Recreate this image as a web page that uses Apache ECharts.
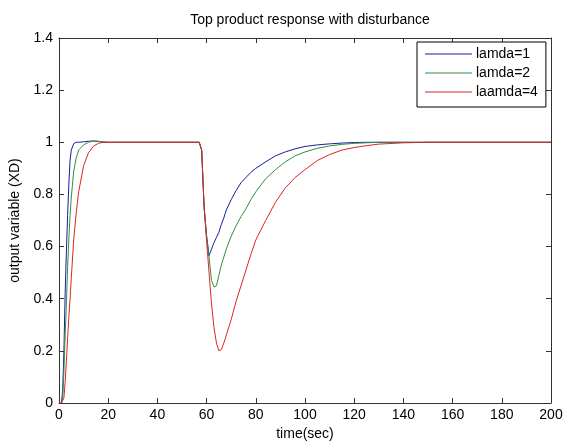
<!DOCTYPE html>
<html>
<head>
<meta charset="utf-8">
<script src="https://cdn.jsdelivr.net/npm/echarts@6/dist/echarts.min.js"></script>
<style>html,body{margin:0;padding:0;background:#fff}#c{width:566px;height:446px}</style>
</head>
<body>
<div id="c"></div>
<script>
var titleText = 'Top product response with disturbance';
var xName = 'time(sec)';
var yName = 'output variable (XD)';
var seriesNames = ['lamda=1', 'lamda=2', 'laamda=4'];
var xTicks = [0, 20, 40, 60, 80, 100, 120, 140, 160, 180, 200];
var yTicks = [0, 0.2, 0.4, 0.6, 0.8, 1, 1.2, 1.4];

var time = [0, 1, 1.5, 2, 2.5, 3, 3.5, 4, 4.5, 5, 6, 7, 8, 10, 12, 14, 16, 18, 20, 30, 40, 50,
  57, 58, 59, 60, 61, 62, 63, 64, 65, 66, 67, 68, 70, 72, 74, 76, 78, 80, 84, 88, 92, 96,
  100, 105, 110, 115, 120, 125, 130, 140, 150, 160, 180, 200];

var lamda1 = [0, 0, 0.05, 0.2, 0.42, 0.58, 0.72, 0.84, 0.93, 0.97, 0.995, 1.0, 1.0, 1.002, 1.004, 1.005, 1.003, 1.001, 1.0, 1.0, 1.0, 1.0,
  1.0, 0.97, 0.75, 0.64, 0.565, 0.59, 0.615, 0.635, 0.655, 0.685, 0.71, 0.74, 0.78, 0.815, 0.845, 0.865, 0.885, 0.9, 0.925, 0.948, 0.963, 0.975,
  0.984, 0.99, 0.994, 0.997, 0.999, 1.0, 1.0, 1.0, 1.0, 1.0, 1.0, 1.0];

var lamda2 = [0, 0, 0.02, 0.12, 0.26, 0.38, 0.52, 0.63, 0.72, 0.79, 0.89, 0.94, 0.97, 0.99, 1.0, 1.005, 1.004, 1.001, 1.0, 1.0, 1.0, 1.0,
  1.0, 0.97, 0.75, 0.64, 0.56, 0.47, 0.445, 0.45, 0.49, 0.53, 0.56, 0.59, 0.64, 0.68, 0.715, 0.745, 0.78, 0.81, 0.86, 0.895, 0.925, 0.948,
  0.963, 0.977, 0.986, 0.992, 0.996, 0.998, 1.0, 1.0, 1.0, 1.0, 1.0, 1.0];

var lamda4 = [0, 0, 0, 0.02, 0.08, 0.16, 0.25, 0.33, 0.40, 0.48, 0.63, 0.73, 0.81, 0.91, 0.96, 0.985, 0.996, 1.0, 1.0, 1.0, 1.0, 1.0,
  1.0, 0.97, 0.75, 0.62, 0.5, 0.38, 0.29, 0.23, 0.2, 0.205, 0.23, 0.26, 0.32, 0.39, 0.45, 0.51, 0.57, 0.625, 0.70, 0.77, 0.825, 0.865,
  0.895, 0.93, 0.953, 0.97, 0.98, 0.987, 0.993, 0.998, 1.0, 1.0, 1.0, 1.0];

var colors = ['#1c1ca0', '#2e9040', '#e02424'];
var values = [lamda1, lamda2, lamda4];

function pairs(ys) { return time.map(function (t, i) { return [t, ys[i]]; }); }

var font = 'Liberation Sans, Arial, sans-serif';
var axisColor = '#333';
var fs = 14;

var chart = echarts.init(document.getElementById('c'), null, {renderer: 'canvas'});
var xMin = xTicks[0], xMax = xTicks[xTicks.length - 1];
var yMin = yTicks[0], yMax = yTicks[yTicks.length - 1];

function xAx(pos, labels) {
  return {
    type: 'value', position: pos, min: xMin, max: xMax, interval: 20,
    name: labels ? xName : '', nameLocation: 'middle', nameGap: 24,
    nameTextStyle: {color: '#000', fontSize: fs, fontFamily: font},
    axisLine: {show: true, onZero: false, lineStyle: {color: axisColor, width: 1}},
    axisTick: {show: true, inside: true, length: 5, lineStyle: {color: axisColor}},
    axisLabel: {show: labels, color: '#000', fontSize: fs, fontFamily: font, margin: 5},
    splitLine: {show: false}
  };
}
function yAx(pos, labels) {
  return {
    type: 'value', position: pos, min: yMin, max: yMax, interval: 0.2,
    name: labels ? yName : '', nameLocation: 'middle', nameGap: 34,
    nameTextStyle: {color: '#000', fontSize: fs, fontFamily: font},
    axisLine: {show: true, onZero: false, lineStyle: {color: axisColor, width: 1}},
    axisTick: {show: true, inside: true, length: 5, lineStyle: {color: axisColor}},
    axisLabel: {show: labels, color: '#000', fontSize: fs, fontFamily: font, margin: 6,
      formatter: function (v) { return String(Math.round(v * 10) / 10); }},
    splitLine: {show: false}
  };
}

var series = seriesNames.map(function (n, i) {
  return {
    name: n, type: 'line', data: pairs(values[i]), showSymbol: false, symbol: 'none',
    smooth: false, animation: false, xAxisIndex: 0, yAxisIndex: 0,
    lineStyle: {color: colors[i], width: 1}, itemStyle: {color: colors[i]}
  };
});

chart.setOption({
  backgroundColor: '#fff',
  animation: false,
  title: {
    text: titleText, left: 305, textAlign: 'center', top: 8,
    textStyle: {color: '#000', fontSize: fs, fontWeight: 'normal', fontFamily: font}
  },
  grid: {left: 59, right: 15, top: 38, bottom: 42, containLabel: false},
  legend: {
    orient: 'vertical', left: 417, top: 42,
    data: seriesNames.map(function (n) { return {name: n, icon: 'rect'}; }),
    itemWidth: 47, itemHeight: 1, itemGap: 3,
    padding: [4, 8, 7, 8],
    backgroundColor: '#fff', borderColor: '#000', borderWidth: 1, borderRadius: 0,
    textStyle: {color: '#000', fontSize: fs, fontFamily: font, padding: [0, 0, 0, -1], lineHeight: 16},
    selectedMode: false
  },
  xAxis: [xAx('bottom', true), xAx('top', false)],
  yAxis: [yAx('left', true), yAx('right', false)],
  series: series
});
</script>
</body>
</html>
